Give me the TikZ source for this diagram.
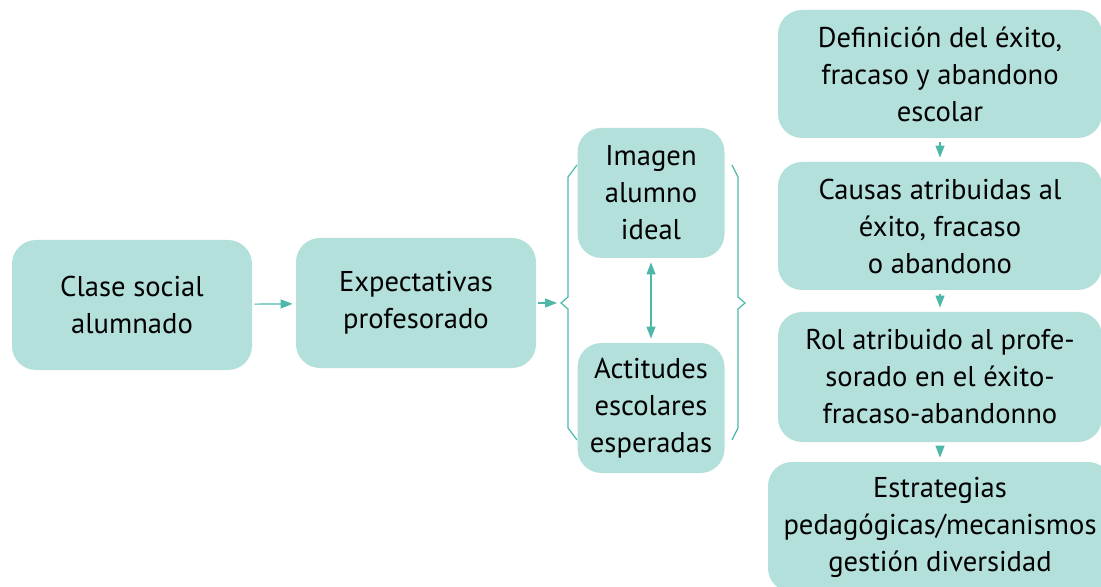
\documentclass[tikz,border=0pt]{standalone}
\usepackage{fontspec}
\setmainfont{PT Sans}
\usetikzlibrary{arrows.meta}
\definecolor{boxfill}{HTML}{B3E0DB}
\definecolor{linkteal}{HTML}{4DB8A8}

\begin{document}
\begin{tikzpicture}[x=0.5pt, y=-0.5pt, font=\fontsize{14.3}{18.5}\selectfont]
\useasboundingbox (0,0) rectangle (1101,587);
\clip (0,0) rectangle (1101,587);
\begin{scope}[every node/.style={rectangle, rounded corners=12pt, fill=boxfill, align=center, inner sep=0pt}]
    \node (clase) at (132,305) [minimum width=120pt, minimum height=65pt] {Clase social\\alumnado};
    \node (expect) at (416,303) [minimum width=120pt, minimum height=65pt] {Expectativas\\profesorado};

    \node (imagen) at (651,193) [minimum width=73.5pt, minimum height=65pt] {Imagen\\alumno\\ideal};
    \node (actitud) at (651,408) [minimum width=73.5pt, minimum height=65pt] {Actitudes\\escolares\\esperadas};

    \node (defin) at (940,74) [minimum width=162pt, minimum height=64pt] {Definición del éxito,\\fracaso y abandono\\escolar};
    \node (causas) at (940,226) [minimum width=162pt, minimum height=64pt] {Causas atribuidas al\\éxito, fracaso\\o abandono};
    \node (rol) at (940,377) [minimum width=162pt, minimum height=65pt] {Rol atribuido al profe-\\sorado en el éxito-\\fracaso-abandonno};
    \node (estrat) at (940,527) [minimum width=172pt, minimum height=65pt] {Estrategias\\pedagógicas/mecanismos\\gestión diversidad};
\end{scope}

% llaves
\coordinate (bracetip) at (561,303);
\draw [linkteal, line width=0.6pt] (577,165) -- (568,177) -- (568,297) -- (bracetip) -- (568,309) -- (568,428) -- (577,440);
\draw [linkteal, line width=0.6pt] (732,165) -- (738,177) -- (738,297) -- (745,303) -- (738,309) -- (738,428) -- (732,440);

\begin{scope}[>={Triangle[length=6pt, width=4.5pt]},
              every edge/.style={draw=linkteal, line width=0.6pt}]
    \path [->, shorten <=1pt, shorten >=1.5pt] (clase) edge (expect);
    \path [->, shorten <=1pt, shorten >=2pt] (expect) edge (bracetip);
    \path [<->, shorten <=2pt, shorten >=2pt] (imagen) edge (actitud);
    \path [->, shorten <=2pt, shorten >=2pt] (defin) edge (causas);
    \path [->, shorten <=2pt, shorten >=2pt] (causas) edge (rol);
    \path [->, shorten <=2pt, shorten >=2pt] (rol) edge (estrat);
\end{scope}
\end{tikzpicture}
\end{document}
